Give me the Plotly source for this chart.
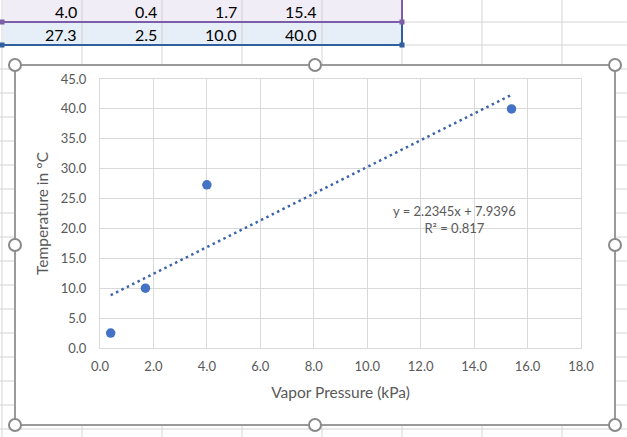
import numpy as np
import plotly.graph_objects as go

# ---------------- data ----------------
vapor_pressure = [4.0, 0.4, 1.7, 15.4]      # kPa (row 1 of sheet)
temperature = [27.3, 2.5, 10.0, 40.0]       # °C  (row 2 of sheet)
x_ticks = [0, 2, 4, 6, 8, 10, 12, 14, 16, 18]
y_ticks = [0, 5, 10, 15, 20, 25, 30, 35, 40, 45]

# ---------------- linear trendline (least squares) ----------------
xv = np.array(vapor_pressure)
yv = np.array(temperature)
m, b = np.polyfit(xv, yv, 1)
pred = m * xv + b
r2 = 1 - np.sum((yv - pred) ** 2) / np.sum((yv - yv.mean()) ** 2)
x_fit = np.array([xv.min(), xv.max()])
y_fit = m * x_fit + b

# ---------------- geometry helpers (pixel -> paper) ----------------
W, H = 627, 437
L, R, T, B = 100, 581, 79, 348
def px(x):
    return (x - L) / (R - L)
def py(y):
    return (B - y) / (B - T)

FONT = "Lato"
TXT = "#595959"
GRID = "#d9d9d9"

fig = go.Figure()
fig.add_trace(go.Scatter(
    x=x_fit, y=y_fit, mode="lines",
    line=dict(color="#3d63a8", width=2.5, dash="2.5px,3.5px"),
    hoverinfo="skip", showlegend=False))
fig.add_trace(go.Scatter(
    x=vapor_pressure, y=temperature, mode="markers",
    marker=dict(color="#4472c4", size=9.5), showlegend=False))

shapes = []
# spreadsheet background grid
sheet_grid = "#d4d4d4"
for xc in [2, 82, 162, 242, 322, 402, 482, 562]:
    shapes.append(dict(type="line", xref="paper", yref="paper", layer="below",
                       x0=px(xc), x1=px(xc), y0=py(-2), y1=py(440),
                       line=dict(color=sheet_grid, width=1)))
for yr in [22, 45, 69, 93, 117, 141, 165, 189, 213, 237, 261, 285, 309, 333, 357, 381, 405, 429]:
    shapes.append(dict(type="line", xref="paper", yref="paper", layer="below",
                       x0=px(-2), x1=px(630), y0=py(yr), y1=py(yr),
                       line=dict(color=sheet_grid, width=1)))
# highlighted table rows
shapes.append(dict(type="rect", xref="paper", yref="paper", layer="below",
                   x0=px(3), x1=px(402), y0=py(-2), y1=py(22),
                   fillcolor="#f1edf6", line=dict(width=0)))
shapes.append(dict(type="rect", xref="paper", yref="paper", layer="below",
                   x0=px(3), x1=px(402), y0=py(22), y1=py(45),
                   fillcolor="#e6eef8", line=dict(width=0)))
for xc in [82, 162, 242, 322]:
    shapes.append(dict(type="line", xref="paper", yref="paper", layer="below",
                       x0=px(xc), x1=px(xc), y0=py(-2), y1=py(45),
                       line=dict(color="#d0d0d0", width=1)))
# selection borders
shapes.append(dict(type="line", xref="paper", yref="paper", layer="below",
                   x0=px(3), x1=px(402), y0=py(22), y1=py(22),
                   line=dict(color="#7b5ea7", width=2)))
shapes.append(dict(type="line", xref="paper", yref="paper", layer="below",
                   x0=px(402), x1=px(402), y0=py(-2), y1=py(22),
                   line=dict(color="#7b5ea7", width=2)))
shapes.append(dict(type="line", xref="paper", yref="paper", layer="below",
                   x0=px(3), x1=px(402), y0=py(45), y1=py(45),
                   line=dict(color="#2f5f9e", width=2)))
shapes.append(dict(type="line", xref="paper", yref="paper", layer="below",
                   x0=px(402), x1=px(402), y0=py(22), y1=py(45),
                   line=dict(color="#2f5f9e", width=2)))
for (hx, hy, col) in [(402, 22, "#7b5ea7"), (402, 45, "#2f5f9e"), (2, 22, "#7b5ea7"), (2, 45, "#2f5f9e")]:
    shapes.append(dict(type="rect", xref="paper", yref="paper", layer="below",
                       xsizemode="pixel", ysizemode="pixel",
                       xanchor=px(hx), yanchor=py(hy), x0=-2.5, x1=2.5, y0=-2.5, y1=2.5,
                       fillcolor=col, line=dict(width=0)))
# chart area
shapes.append(dict(type="rect", xref="paper", yref="paper", layer="below",
                   x0=px(15), x1=px(615), y0=py(65), y1=py(425),
                   fillcolor="white", line=dict(color="#9a9a9a", width=2)))
# sizing handles
for (hx, hy) in [(15, 65), (315, 65), (615, 65), (15, 245), (615, 245),
                 (15, 425), (315, 425), (615, 425)]:
    shapes.append(dict(type="circle", xref="paper", yref="paper", layer="above",
                       xsizemode="pixel", ysizemode="pixel",
                       xanchor=px(hx), yanchor=py(hy), x0=-6, x1=6, y0=-6, y1=6,
                       fillcolor="white", line=dict(color="#8a8a8a", width=2)))

annotations = []
# table cell text
col_right = [82, 162, 242, 322]
for vals, yc in [(vapor_pressure, 11), (temperature, 34)]:
    for v, xr in zip(vals, col_right):
        annotations.append(dict(xref="paper", yref="paper", x=px(xr - 3), y=py(yc),
                                xanchor="right", yanchor="middle", showarrow=False,
                                text=f"{v:.1f}", font=dict(family=FONT, size=16, color="#000000")))
# trendline equation
annotations.append(dict(xref="paper", yref="paper", x=px(454), y=py(219),
                        xanchor="center", yanchor="middle", showarrow=False, align="center",
                        text=f"y = {m:.4f}x + {b:.4f}<br>R² = {r2:.3f}",
                        font=dict(family=FONT, size=13, color=TXT)))

fig.update_layout(
    width=W, height=H,
    margin=dict(l=L, r=W - R, t=T, b=H - B, pad=0),
    paper_bgcolor="white", plot_bgcolor="white",
    font=dict(family=FONT, size=13, color=TXT),
    shapes=shapes, annotations=annotations,
    xaxis=dict(range=[0, 18], tickvals=x_ticks, tickformat=".1f",
               showgrid=True, gridcolor=GRID, gridwidth=1,
               showline=True, linecolor=GRID, linewidth=1, mirror=True,
               zeroline=False, ticks="", ticklabelstandoff=6, automargin=False,
               tickfont=dict(family=FONT, size=13, color=TXT),
               title=dict(text="Vapor Pressure (kPa)", standoff=14,
                          font=dict(family=FONT, size=15.5, color=TXT))),
    yaxis=dict(range=[0, 45], tickvals=y_ticks, tickformat=".1f",
               showgrid=True, gridcolor=GRID, gridwidth=1,
               showline=True, linecolor=GRID, linewidth=1, mirror=True,
               zeroline=False, ticks="", ticklabelstandoff=10, automargin=False,
               tickfont=dict(family=FONT, size=13, color=TXT),
               title=dict(text="Temperature in °C", standoff=8,
                          font=dict(family=FONT, size=15.5, color=TXT))),
)

fig.write_html("out.html")
